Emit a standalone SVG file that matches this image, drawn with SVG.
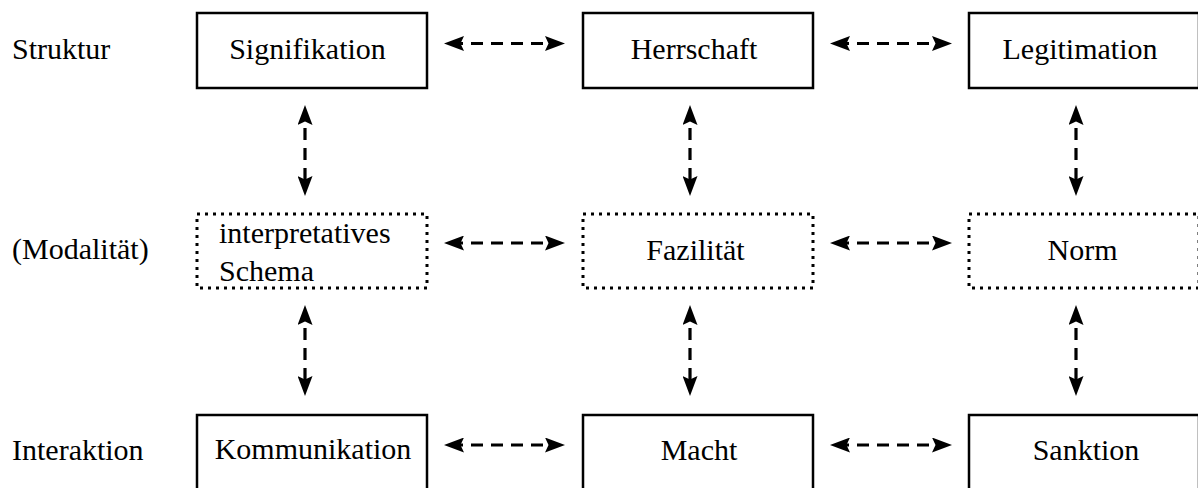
<svg xmlns="http://www.w3.org/2000/svg" width="1198" height="488" viewBox="0 0 1198 488">
  <style>
    text { font-family: "Liberation Serif", "Times New Roman", serif; font-size: 30px; fill: #000; }
    .mid { text-anchor: middle; }
    .box { fill: #fff; stroke: #000; stroke-width: 2.5; }
    .dot { fill: #fff; stroke: #000; stroke-width: 3; stroke-dasharray: 3 5; }
    .link { fill: none; stroke: #000; stroke-width: 3.2; stroke-dasharray: 12 8; stroke-dashoffset: 8; }
    .vlink { fill: none; stroke: #000; stroke-width: 3.2; stroke-dasharray: 12 8; stroke-dashoffset: 12; }
  </style>
  <defs>
    <marker id="head" viewBox="0 0 20 15" refX="5" refY="7.5" markerWidth="20" markerHeight="15" markerUnits="userSpaceOnUse" orient="auto-start-reverse">
      <path d="M0,0 L20,7.5 L0,15 L3.5,7.5 Z" fill="#000"/>
    </marker>
  </defs>

  <rect width="1198" height="488" fill="#fff"/>

  <!-- row labels -->
  <g id="row-labels">
    <text x="12" y="59">Struktur</text>
    <text x="12" y="259">(Modalität)</text>
    <text x="12" y="460">Interaktion</text>
  </g>

  <!-- structure row -->
  <g id="signifikation">
    <rect class="box" x="197" y="13" width="230" height="75"/>
    <text class="mid" x="307.5" y="59">Signifikation</text>
  </g>
  <g id="herrschaft">
    <rect class="box" x="583" y="13" width="230" height="75"/>
    <text class="mid" x="694" y="59">Herrschaft</text>
  </g>
  <g id="legitimation">
    <rect class="box" x="969" y="13" width="230" height="75"/>
    <text class="mid" x="1080" y="59">Legitimation</text>
  </g>

  <!-- modality row -->
  <g id="interpretatives-schema">
    <rect class="dot" x="197" y="214" width="230" height="74"/>
    <text x="219" y="243">interpretatives</text>
    <text x="219" y="281">Schema</text>
  </g>
  <g id="fazilitaet">
    <rect class="dot" x="583" y="214" width="230" height="74"/>
    <text class="mid" x="695.5" y="260">Fazilität</text>
  </g>
  <g id="norm">
    <rect class="dot" x="969" y="214" width="230" height="74"/>
    <text class="mid" x="1082.5" y="260">Norm</text>
  </g>

  <!-- interaction row -->
  <g id="kommunikation">
    <rect class="box" x="197" y="415" width="230" height="75"/>
    <text class="mid" x="313" y="459">Kommunikation</text>
  </g>
  <g id="macht">
    <rect class="box" x="583" y="415" width="230" height="75"/>
    <text class="mid" x="699" y="460">Macht</text>
  </g>
  <g id="sanktion">
    <rect class="box" x="969" y="415" width="230" height="75"/>
    <text class="mid" x="1086" y="460">Sanktion</text>
  </g>

  <!-- two-way dashed links -->
  <g id="connectors">
    <path class="link" d="M459,43.5 H550" marker-start="url(#head)" marker-end="url(#head)"/>
    <path class="link" d="M845,43.5 H937" marker-start="url(#head)" marker-end="url(#head)"/>
    <path class="link" d="M459,243 H550" marker-start="url(#head)" marker-end="url(#head)"/>
    <path class="link" d="M845,243 H937" marker-start="url(#head)" marker-end="url(#head)"/>
    <path class="link" d="M459,445 H550" marker-start="url(#head)" marker-end="url(#head)"/>
    <path class="link" d="M845,445 H937" marker-start="url(#head)" marker-end="url(#head)"/>

    <path class="vlink" d="M305,120 V181" marker-start="url(#head)" marker-end="url(#head)"/>
    <path class="vlink" d="M690,120 V181" marker-start="url(#head)" marker-end="url(#head)"/>
    <path class="vlink" d="M1076,120 V181" marker-start="url(#head)" marker-end="url(#head)"/>
    <path class="vlink" d="M305,320 V381" marker-start="url(#head)" marker-end="url(#head)"/>
    <path class="vlink" d="M690,320 V381" marker-start="url(#head)" marker-end="url(#head)"/>
    <path class="vlink" d="M1076,320 V381" marker-start="url(#head)" marker-end="url(#head)"/>
  </g>
</svg>
